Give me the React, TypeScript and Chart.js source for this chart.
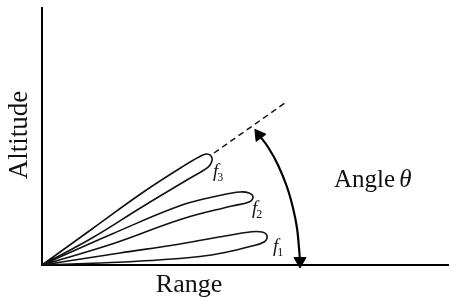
import React, { useEffect, useRef } from "react";
import { Chart, registerables } from "chart.js";

Chart.register(...registerables);

// Lobe outlines as [range, altitude] pairs (origin = corner of axes)
const lobeF1: number[][] = [
  [0, 0], [78, 12], [138, 21], [183, 29], [208, 33], [220, 33], [225, 29],
  [222, 23], [208, 18.5], [183, 12.5], [158, 8.5], [108, 4.5], [58, 2], [0, 0],
];
const lobeF2: number[][] = [
  [0, 0], [70, 31], [140, 60], [180, 70], [198, 73], [207, 72], [211, 68],
  [207, 63], [190, 59], [140, 46], [70, 21], [0, 0],
];
const lobeF3: number[][] = [
  [0, 0], [50, 36], [100, 72], [140, 98], [157, 108], [165, 111], [170, 107],
  [168, 100], [162, 95], [150, 88], [100, 58], [50, 27], [0, 0],
];
// Dashed extension of the top lobe's direction
const dashedLine: number[][] = [[172, 112], [243, 162]];
// Angle arc (from its upper arrow to its lower arrow)
const angleArc: number[][] = [
  [217, 130], [226, 118], [236, 100], [245, 78], [251, 57], [255, 37], [257, 17], [258, 4],
];

const rangeMax = 407;
const altitudeMax = 257;

const xTitle = "Range";
const yTitle = "Altitude";
const angleText = "Angle ";
const angleSymbol = "θ";
const lobeLetter = "f";
const lobeSubscripts = ["1", "2", "3"];

const toPts = (a: number[][]) => a.map(([x, y]) => ({ x, y }));

const textPlugin = {
  id: "diagramText",
  afterDraw(chart: any) {
    const { ctx } = chart;
    const xs = chart.scales.x;
    const ys = chart.scales.y;
    const px = (v: number) => xs.getPixelForValue(v);
    const py = (v: number) => ys.getPixelForValue(v);
    ctx.save();
    ctx.fillStyle = "#111";
    ctx.textBaseline = "alphabetic";

    // Altitude (rotated)
    ctx.save();
    ctx.font = "27px 'Liberation Serif'";
    ctx.translate(27, 135);
    ctx.rotate(-Math.PI / 2);
    ctx.textAlign = "center";
    ctx.fillText(yTitle, 0, 0);
    ctx.restore();

    // Range
    ctx.font = "26px 'Liberation Serif'";
    ctx.textAlign = "center";
    ctx.fillText(xTitle, 189, 292);

    // Angle θ
    ctx.textAlign = "left";
    ctx.font = "25px 'Liberation Serif'";
    ctx.fillText(angleText, 334, 187);
    const w = ctx.measureText(angleText).width;
    ctx.font = "italic 25px 'Liberation Serif'";
    ctx.fillText(angleSymbol, 334 + w - 2, 187);

    // lobe labels
    const labelPos = [
      [px(231), py(13)],
      [px(210), py(51)],
      [px(171), py(88)],
    ];
    lobeSubscripts.forEach((s, i) => {
      const [lx, ly] = labelPos[i];
      ctx.font = "italic 19px 'Liberation Serif'";
      ctx.fillText(lobeLetter, lx, ly);
      const fw = ctx.measureText(lobeLetter).width;
      ctx.font = "12px 'Liberation Serif'";
      ctx.fillText(s, lx + fw - 1, ly + 4);
    });
    ctx.restore();
  },
};

export default function App() {
  const ref = useRef<HTMLCanvasElement | null>(null);
  useEffect(() => {
    if (!ref.current) return;
    const lobeStyle = {
      showLine: true,
      borderColor: "#111",
      borderWidth: 1.6,
      pointRadius: 0,
      tension: 0.4,
      fill: false,
      clip: false as any,
    };
    const arcPts = toPts(angleArc);
    const chart = new Chart(ref.current, {
      type: "scatter",
      data: {
        datasets: [
          { ...lobeStyle, label: "f1", data: toPts(lobeF1) },
          { ...lobeStyle, label: "f2", data: toPts(lobeF2) },
          { ...lobeStyle, label: "f3", data: toPts(lobeF3) },
          {
            ...lobeStyle,
            label: "dir",
            data: toPts(dashedLine),
            tension: 0,
            borderDash: [6, 4],
            borderWidth: 1.5,
          },
          {
            label: "angle",
            data: arcPts,
            showLine: true,
            borderColor: "#000",
            borderWidth: 2.2,
            tension: 0.4,
            clip: false as any,
            pointStyle: "triangle",
            pointRadius: arcPts.map((_, i) => (i === 0 || i === arcPts.length - 1 ? 7 : 0)),
            pointRotation: arcPts.map((_, i) => (i === 0 ? -36 : 180)),
            pointBackgroundColor: "#000",
            pointBorderColor: "#000",
            pointBorderWidth: 1,
          } as any,
        ],
      },
      options: {
        animation: false,
        responsive: false,
        devicePixelRatio: 1,
        layout: { autoPadding: false, padding: { left: 42, top: 8, right: 0, bottom: 33 } },
        plugins: { legend: { display: false }, tooltip: { enabled: false } },
        events: [],
        scales: {
          x: {
            type: "linear",
            min: 0,
            max: rangeMax,
            grid: { display: false, drawTicks: false },
            ticks: { display: false },
            border: { display: true, color: "#000", width: 2 },
          },
          y: {
            type: "linear",
            min: 0,
            max: altitudeMax,
            grid: { display: false, drawTicks: false },
            ticks: { display: false },
            border: { display: true, color: "#000", width: 2 },
          },
        },
      },
      plugins: [textPlugin],
    });
    return () => chart.destroy();
  }, []);
  return (
    <div style={{ position: "fixed", left: 0, top: 0, width: 449, height: 298, background: "#fff" }}>
      <canvas ref={ref} width={449} height={298} />
    </div>
  );
}
